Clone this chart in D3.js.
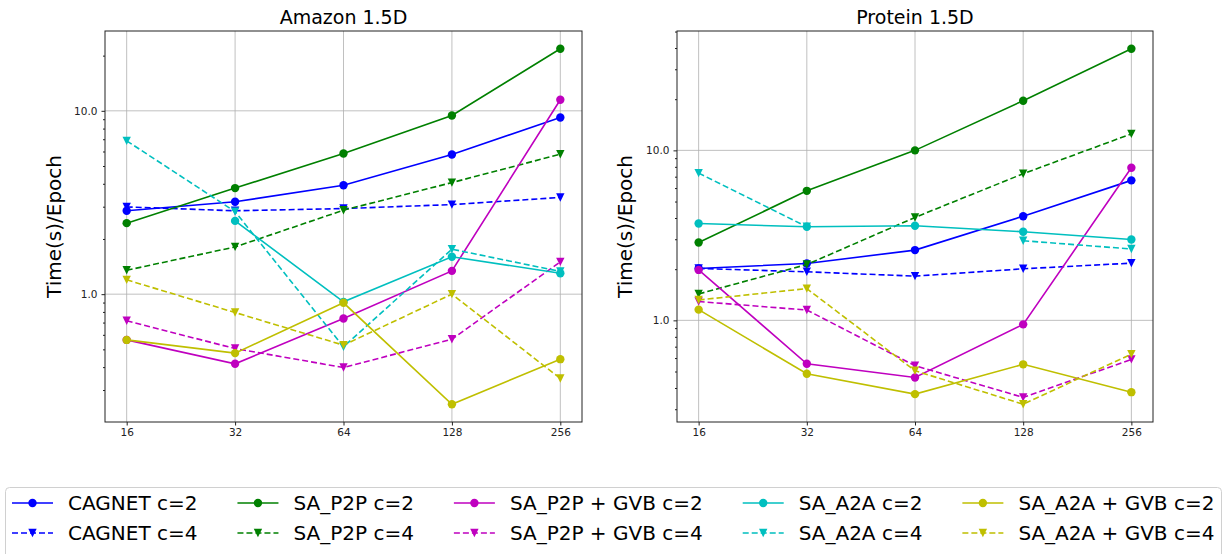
<!DOCTYPE html>
<html>
<head>
<meta charset="utf-8">
<script src="https://cdn.jsdelivr.net/npm/d3@7"></script>
<style>
  body { margin: 0; background: #fff; }
  svg { font-family: "DejaVu Sans", sans-serif; }
</style>
</head>
<body>
<div id="chart"></div>
<script>
// Time per epoch vs. process count, two datasets, log-log

// Data
// =======================================
var procs = [16, 32, 64, 128, 256];

var seriesNames = [
  "CAGNET c=2", "CAGNET c=4",
  "SA_P2P c=2", "SA_P2P c=4",
  "SA_P2P + GVB c=2", "SA_P2P + GVB c=4",
  "SA_A2A c=2", "SA_A2A c=4",
  "SA_A2A + GVB c=2", "SA_A2A + GVB c=4"
];

// rows follow seriesNames, null = no run
var amazonTimes = [
  [2.85, 3.19, 3.93, 5.78, 9.2],
  [2.99, 2.85, 2.93, 3.08, 3.37],
  [2.44, 3.79, 5.85, 9.43, 21.8],
  [1.35, 1.81, 2.87, 4.06, 5.8],
  [0.563, 0.417, 0.737, 1.34, 11.5],
  [0.716, 0.505, 0.398, 0.568, 1.50],
  [null, 2.51, 0.908, 1.60, 1.30],
  [6.86, 2.82, 0.516, 1.76, 1.33],
  [0.563, 0.477, 0.897, 0.251, 0.442],
  [1.197, 0.794, 0.527, 1.0, 0.347]
];

var proteinTimes = [
  [2.02, 2.16, 2.59, 4.10, 6.66],
  [2.02, 1.93, 1.82, 2.01, 2.17],
  [2.87, 5.78, 10.0, 19.6, 39.6],
  [1.43, 2.13, 4.03, 7.29, 12.5],
  [1.98, 0.555, 0.461, 0.947, 7.9],
  [1.29, 1.15, 0.541, 0.352, 0.589],
  [3.71, 3.55, 3.60, 3.32, 2.99],
  [7.35, 3.55, null, 2.94, 2.63],
  [1.156, 0.485, 0.368, 0.551, 0.378],
  [1.318, 1.537, 0.505, 0.321, 0.633]
];

// matplotlib single-letter colours b, g, m, c, y
var colors = ["#0000ff", "#008000", "#bf00bf", "#00bfbf", "#bfbf00"];

// Layout
// =======================================
var width = 1225;
var height = 554;
var plotTop = 31;
var plotBottom = 422;

var panels = [
  { title: "Amazon 1.5D", data: amazonTimes, left: 105, right: 582, labelX: 61 },
  { title: "Protein 1.5D", data: proteinTimes, left: 677, right: 1153, labelX: 632 }
];

var svg = d3.select("#chart")
  .append("svg")
  .attr("width", width)
  .attr("height", height);

function seriesColor(i) { return colors[Math.floor(i / 2)]; }
function isDashed(i) { return i % 2 === 1; }

function drawMarker(g, i, cx, cy) {
  var c = seriesColor(i);
  if (isDashed(i)) {
    g.append("path")
      .attr("d", "M" + (cx - 4.2) + "," + (cy - 4.2) + "L" + (cx + 4.2) + "," + (cy - 4.2) +
        "L" + cx + "," + (cy + 4.2) + "Z")
      .attr("fill", c);
  } else {
    g.append("circle")
      .attr("cx", cx).attr("cy", cy).attr("r", 4.2)
      .attr("fill", c);
  }
}

// Panels
// =======================================
panels.forEach(function(p) {
  var g = svg.append("g");

  var xPad = Math.pow(2, 0.2);
  var x = d3.scaleLog().base(2)
    .domain([procs[0] / xPad, procs[procs.length - 1] * xPad])
    .range([p.left, p.right]);

  var all = d3.merge(p.data).filter(function(v) { return v != null; });
  var lo = Math.log10(d3.min(all));
  var hi = Math.log10(d3.max(all));
  var pad = (hi - lo) * 0.05;
  var y = d3.scaleLog()
    .domain([Math.pow(10, lo - pad), Math.pow(10, hi + pad)])
    .range([plotBottom, plotTop]);

  // major / minor ticks on y
  var majors = [], minors = [];
  for (var k = Math.floor(lo - pad); k <= Math.ceil(hi + pad); k++) {
    for (var m = 1; m < 10; m++) {
      var v = m * Math.pow(10, k);
      if (v < y.domain()[0] || v > y.domain()[1]) continue;
      if (m === 1) majors.push(v); else minors.push(v);
    }
  }

  // grid
  g.append("g").selectAll("line")
    .data(procs)
    .join("line")
    .attr("x1", function(d) { return x(d); })
    .attr("x2", function(d) { return x(d); })
    .attr("y1", plotTop).attr("y2", plotBottom)
    .attr("stroke", "#b0b0b0").attr("stroke-width", 0.8);

  g.append("g").selectAll("line")
    .data(majors)
    .join("line")
    .attr("x1", p.left).attr("x2", p.right)
    .attr("y1", function(d) { return y(d); })
    .attr("y2", function(d) { return y(d); })
    .attr("stroke", "#b0b0b0").attr("stroke-width", 0.8);

  // series
  var line = d3.line()
    .defined(function(d) { return d != null; })
    .x(function(d, i) { return x(procs[i]); })
    .y(function(d) { return y(d); });

  p.data.forEach(function(row, si) {
    var sg = g.append("g");
    sg.append("path")
      .attr("d", line(row))
      .attr("fill", "none")
      .attr("stroke", seriesColor(si))
      .attr("stroke-width", 1.6)
      .attr("stroke-dasharray", isDashed(si) ? "6,3" : null);
    row.forEach(function(v, j) {
      if (v != null) drawMarker(sg, si, x(procs[j]), y(v));
    });
  });

  // frame
  g.append("rect")
    .attr("x", p.left).attr("y", plotTop)
    .attr("width", p.right - p.left).attr("height", plotBottom - plotTop)
    .attr("fill", "none").attr("stroke", "#222").attr("stroke-width", 1);

  // axes
  var xAxis = g.append("g")
    .attr("transform", "translate(0," + plotBottom + ")")
    .call(d3.axisBottom(x).tickValues(procs).tickFormat(d3.format("d"))
      .tickSize(3.5).tickSizeOuter(0).tickPadding(3.5));
  xAxis.select(".domain").remove();

  var yAxis = g.append("g")
    .attr("transform", "translate(" + p.left + ",0)")
    .call(d3.axisLeft(y).tickValues(majors).tickFormat(d3.format(".1f"))
      .tickSize(3.5).tickSizeOuter(0).tickPadding(4));
  yAxis.select(".domain").remove();

  var yMinor = g.append("g")
    .attr("transform", "translate(" + p.left + ",0)")
    .call(d3.axisLeft(y).tickValues(minors).tickFormat("").tickSize(2).tickSizeOuter(0));
  yMinor.select(".domain").remove();

  g.selectAll(".tick text")
    .attr("font-family", "DejaVu Sans")
    .style("font-size", "10.5px")
    .attr("fill", "#222");
  g.selectAll(".tick line").attr("stroke", "#222");

  // title and y label
  g.append("text")
    .attr("x", (p.left + p.right) / 2)
    .attr("y", 24)
    .attr("text-anchor", "middle")
    .style("font-size", "19px")
    .text(p.title);

  g.append("text")
    .attr("transform", "translate(" + p.labelX + "," + ((plotTop + plotBottom) / 2) + ")rotate(-90)")
    .attr("text-anchor", "middle")
    .style("font-size", "20px")
    .text("Time(s)/Epoch");
});

// Legend
// =======================================
var legend = svg.append("g");

legend.append("rect")
  .attr("x", 5.5).attr("y", 487.5)
  .attr("width", 1216).attr("height", 90)
  .attr("rx", 4)
  .attr("fill", "#fff")
  .attr("stroke", "#d0d0d0");

var rowY = [503, 533];
var colX = 12;
for (var col = 0; col < 5; col++) {
  var widest = 0;
  for (var row = 0; row < 2; row++) {
    var si = col * 2 + row;
    var lg = legend.append("g");
    lg.append("line")
      .attr("x1", colX).attr("x2", colX + 41)
      .attr("y1", rowY[row]).attr("y2", rowY[row])
      .attr("stroke", seriesColor(si))
      .attr("stroke-width", 1.6)
      .attr("stroke-dasharray", isDashed(si) ? "6,3" : null);
    drawMarker(lg, si, colX + 20.5, rowY[row]);
    var t = lg.append("text")
      .attr("x", colX + 56)
      .attr("y", rowY[row])
      .attr("dy", "0.36em")
      .style("font-size", "20px")
      .text(seriesNames[si]);
    widest = Math.max(widest, t.node().getComputedTextLength());
  }
  colX = colX + 56 + widest + 40;
}
</script>
</body>
</html>
